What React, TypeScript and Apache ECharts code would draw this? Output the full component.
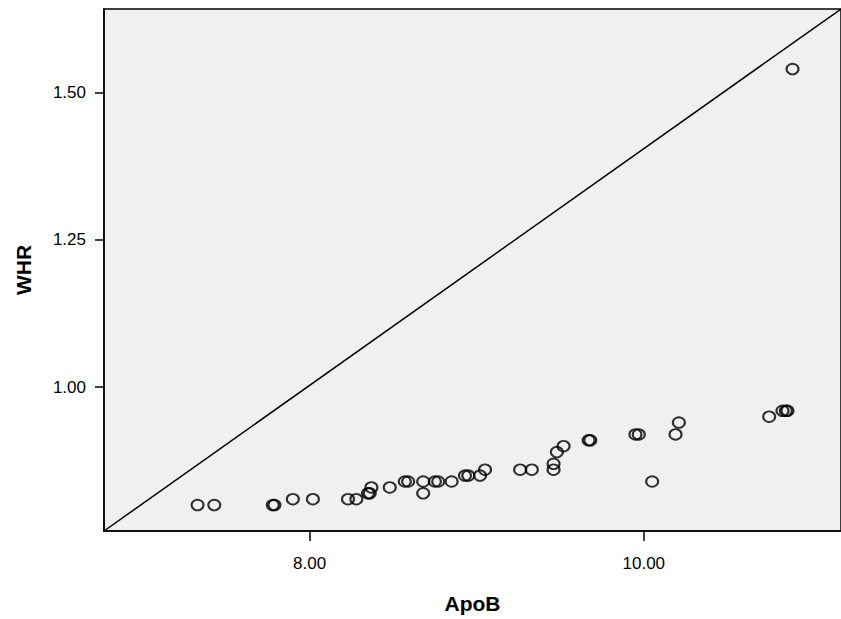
import React, { useEffect, useRef } from "react";
import * as echarts from "echarts";

const apoB: number[] = [
  7.33, 7.43, 7.78, 7.79, 7.9, 8.02, 8.23, 8.28, 8.35, 8.36, 8.37, 8.48, 8.57, 8.59,
  8.68, 8.68, 8.75, 8.77, 8.85, 8.93, 8.95, 9.02, 9.05, 9.26, 9.33, 9.46, 9.46, 9.48,
  9.52, 9.67, 9.68, 9.95, 9.97, 10.05, 10.19, 10.21, 10.75, 10.83, 10.85, 10.86, 10.89,
];
const whr: number[] = [
  0.8, 0.8, 0.8, 0.8, 0.81, 0.81, 0.81, 0.81, 0.82, 0.82, 0.83, 0.83, 0.84, 0.84,
  0.84, 0.82, 0.84, 0.84, 0.84, 0.85, 0.85, 0.85, 0.86, 0.86, 0.86, 0.86, 0.87, 0.89,
  0.9, 0.91, 0.91, 0.92, 0.92, 0.84, 0.92, 0.94, 0.95, 0.96, 0.96, 0.96, 1.54,
];

const xMin = 6.77;
const xMax = 11.18;
const yMin = 0.756;
const yMax = 1.642;
const xTicks: number[] = [8, 10];
const yTicks: number[] = [1.0, 1.25, 1.5];
const refLineX: number[] = [xMin, xMax];
const refLineY: number[] = [yMin, yMax];

export default function App() {
  const ref = useRef<HTMLDivElement>(null);
  useEffect(() => {
    if (!ref.current) return;
    const chart = echarts.init(ref.current, null, { renderer: "svg" });
    const font = "'Liberation Sans', Arial, sans-serif";
    chart.setOption({
      animation: false,
      backgroundColor: "#ffffff",
      grid: {
        left: 104,
        top: 9,
        right: -1,
        bottom: 87.5,
        show: true,
        backgroundColor: "#f0f0f0",
        borderColor: "#000000",
        borderWidth: 1.5,
      },
      xAxis: {
        type: "value",
        min: xMin,
        max: xMax,
        name: "ApoB",
        nameLocation: "middle",
        nameGap: 62,
        nameTextStyle: { fontFamily: font, fontSize: 21, fontWeight: "bold", color: "#000" },
        axisLine: { show: true, lineStyle: { color: "#000", width: 1.5 } },
        axisTick: { show: true, customValues: xTicks, length: 10, lineStyle: { color: "#000", width: 1.5 } },
        axisLabel: {
          customValues: xTicks,
          formatter: (v: number) => v.toFixed(2),
          margin: 24,
          fontFamily: font,
          fontSize: 17,
          color: "#000",
        },
        splitLine: { show: false },
      },
      yAxis: {
        type: "value",
        min: yMin,
        max: yMax,
        name: "WHR",
        nameLocation: "middle",
        nameGap: 70,
        nameTextStyle: { fontFamily: font, fontSize: 21, fontWeight: "bold", color: "#000" },
        axisLine: { show: true, lineStyle: { color: "#000", width: 1.5 } },
        axisTick: { show: true, customValues: yTicks, length: 9, lineStyle: { color: "#000", width: 1.5 } },
        axisLabel: {
          customValues: yTicks,
          formatter: (v: number) => v.toFixed(2),
          margin: 18,
          fontFamily: font,
          fontSize: 17,
          color: "#000",
        },
        splitLine: { show: false },
      },
      series: [
        {
          type: "line",
          data: refLineX.map((x, i) => [x, refLineY[i]]),
          showSymbol: false,
          symbol: "none",
          lineStyle: { color: "#000", width: 1.5 },
          silent: true,
          z: 2,
        },
        {
          type: "scatter",
          data: apoB.map((x, i) => [x, whr[i]]),
          symbol: "circle",
          symbolSize: [12, 10.5],
          itemStyle: { color: "rgba(0,0,0,0)", borderColor: "#000", borderWidth: 2 },
          z: 3,
        },
      ],
    });
    return () => chart.dispose();
  }, []);
  return (
    <div
      ref={ref}
      style={{ position: "fixed", left: 0, top: 0, width: 841, height: 619 }}
    />
  );
}
